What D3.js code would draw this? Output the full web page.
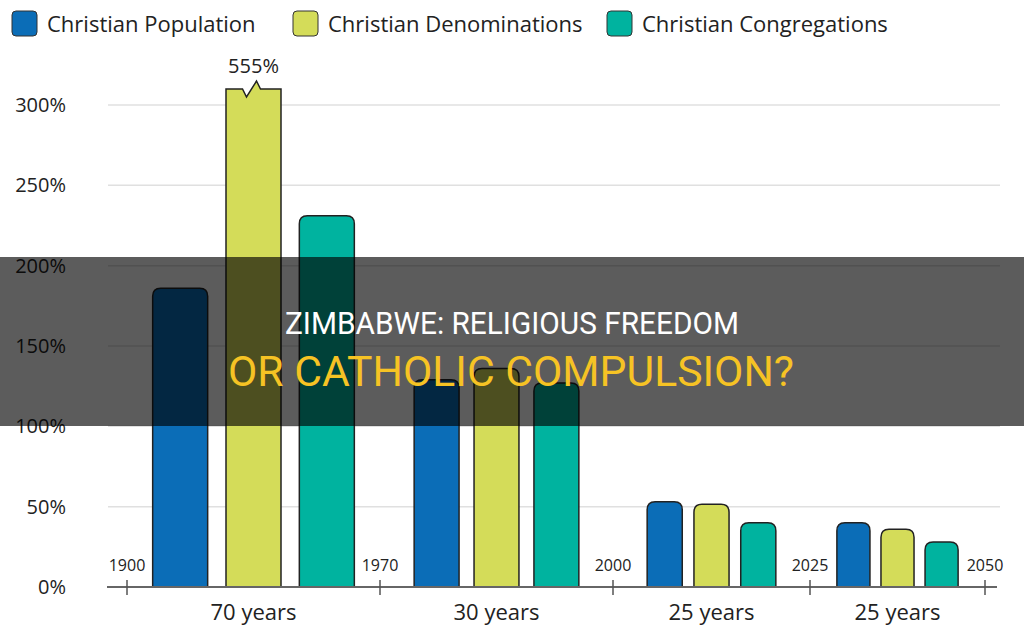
<!DOCTYPE html>
<html>
<head>
<meta charset="utf-8">
<script src="https://cdn.jsdelivr.net/npm/d3@7"></script>
<style>
	body { margin: 0; background: #fff; }
	svg { display: block; font-family: "Open Sans", "Noto Sans", sans-serif; }
</style>
</head>
<body>
<div id="chart"></div>
<script>
// data
const series = ["Christian Population", "Christian Denominations", "Christian Congregations"];
const years = [1900, 1970, 2000, 2025, 2050];
const periods = ["70 years", "30 years", "25 years", "25 years"];
const population = [186, 129, 53, 40];
const denominations = [555, 136, 51.5, 36];
const congregations = [231, 127, 40, 28];
const yTicks = [0, 50, 100, 150, 200, 250, 300];

const colors = ["#0b6db7", "#d4dc59", "#00b39f"];

const width = 1024;
const height = 638;
const yMax = 300; // bars above this get a break mark

const svg = d3
	.select("#chart")
	.append("svg")
	.attr("width", width)
	.attr("height", height);

const y = d3.scaleLinear().domain([0, yMax]).range([587, 105]);

// uneven spacing of the period segments along the axis
const xYear = d3.scaleLinear().domain(years).range([127, 380, 613, 810, 985]);
const outerPad = [0.35, 0.57, 0.73, 0.61];

// grid lines
svg.append("g")
	.selectAll("line")
	.data(yTicks.filter((d) => d > 0))
	.enter()
	.append("line")
	.attr("x1", 108)
	.attr("x2", 1000)
	.attr("y1", (d) => y(d))
	.attr("y2", (d) => y(d))
	.attr("stroke", "#e0e0e0")
	.attr("stroke-width", 1.5);

// y axis labels
const yAxis = d3
	.axisLeft(y)
	.tickValues(yTicks)
	.tickSize(0)
	.tickPadding(0)
	.tickFormat((d) => d + "%");

svg.append("g")
	.attr("transform", "translate(66,0)")
	.call(yAxis)
	.call((g) => g.select(".domain").remove())
	.selectAll("text")
	.attr("font-size", 20)
	.attr("fill", "#222")
	.attr("font-family", "Open Sans");

// rows for the bars
const rows = periods.map((p, i) => ({
	period: p,
	start: years[i],
	end: years[i + 1],
	values: [population[i], denominations[i], congregations[i]],
}));

function topRounded(x, yTop, w, yBase, r) {
	return (
		"M" + x + "," + yBase +
		"V" + (yTop + r) +
		"Q" + x + "," + yTop + " " + (x + r) + "," + yTop +
		"H" + (x + w - r) +
		"Q" + (x + w) + "," + yTop + " " + (x + w) + "," + (yTop + r) +
		"V" + yBase + "Z"
	);
}

function brokenTop(x, yTop, w, yBase) {
	const m = x + w / 2;
	return (
		"M" + x + "," + yBase +
		"V" + yTop +
		"H" + (m - 11) +
		"L" + (m - 7) + "," + (yTop + 8) +
		"L" + (m + 3) + "," + (yTop - 8) +
		"L" + (m + 7) + "," + yTop +
		"H" + (x + w) +
		"V" + yBase + "Z"
	);
}

const bars = svg.append("g");

rows.forEach((row, i) => {
	const xb = d3
		.scaleBand()
		.domain(series)
		.range([xYear(row.start), xYear(row.end)])
		.paddingInner(0.25)
		.paddingOuter(outerPad[i]);

	row.values.forEach((v, j) => {
		const bx = xb(series[j]);
		const bw = xb.bandwidth();
		const broken = v > yMax;
		bars.append("path")
			.attr("d", broken
				? brokenTop(bx, y(yMax) - 16, bw, y(0))
				: topRounded(bx, y(v), bw, y(0), 8))
			.attr("fill", colors[j])
			.attr("stroke", "#222")
			.attr("stroke-width", 1.5);

		if (broken) {
			bars.append("text")
				.attr("x", bx + bw / 2)
				.attr("y", y(yMax) - 32)
				.attr("text-anchor", "middle")
				.attr("font-size", 20)
				.attr("fill", "#222")
				.text(v + "%");
		}
	});

	// period label
	svg.append("text")
		.attr("x", (xYear(row.start) + xYear(row.end)) / 2)
		.attr("y", 620)
		.attr("text-anchor", "middle")
		.attr("font-size", 22)
		.attr("fill", "#222")
		.text(row.period);
});

// x axis
const xAxis = svg.append("g");
xAxis.append("line")
	.attr("x1", 107)
	.attr("x2", 997)
	.attr("y1", y(0))
	.attr("y2", y(0))
	.attr("stroke", "#666")
	.attr("stroke-width", 2);

xAxis.selectAll(".tick")
	.data(years)
	.enter()
	.append("line")
	.attr("x1", (d) => xYear(d))
	.attr("x2", (d) => xYear(d))
	.attr("y1", y(0) - 7)
	.attr("y2", y(0) + 8)
	.attr("stroke", "#555")
	.attr("stroke-width", 1.5);

xAxis.selectAll(".year")
	.data(years)
	.enter()
	.append("text")
	.attr("x", (d) => xYear(d))
	.attr("y", 571)
	.attr("text-anchor", "middle")
	.attr("font-size", 16)
	.attr("fill", "#222")
	.text((d) => d);

// legend
const legendX = [12, 293, 607];
const legend = svg.append("g");
series.forEach((s, i) => {
	legend.append("rect")
		.attr("x", legendX[i])
		.attr("y", 11)
		.attr("width", 25)
		.attr("height", 25)
		.attr("rx", 4)
		.attr("fill", colors[i])
		.attr("stroke", "#333")
		.attr("stroke-width", 1);
	legend.append("text")
		.attr("x", legendX[i] + 35)
		.attr("y", 32)
		.attr("font-size", 22)
		.attr("fill", "#222")
		.text(s);
});

// dark title band across the middle
svg.append("rect")
	.attr("x", 0)
	.attr("y", 257)
	.attr("width", width)
	.attr("height", 169)
	.attr("fill", "rgba(0,0,0,0.64)");

svg.append("text")
	.attr("x", 512)
	.attr("y", 334)
	.attr("text-anchor", "middle")
	.attr("font-family", "Roboto")
	.attr("font-size", 31)
	.attr("textLength", 454)
	.attr("lengthAdjust", "spacingAndGlyphs")
	.attr("fill", "#fff")
	.text("ZIMBABWE: RELIGIOUS FREEDOM");

svg.append("text")
	.attr("x", 511)
	.attr("y", 386)
	.attr("text-anchor", "middle")
	.attr("font-family", "Roboto")
	.attr("font-size", 42)
	.attr("textLength", 566)
	.attr("lengthAdjust", "spacingAndGlyphs")
	.attr("fill", "#f6c324")
	.text("OR CATHOLIC COMPULSION?");
</script>
</body>
</html>
